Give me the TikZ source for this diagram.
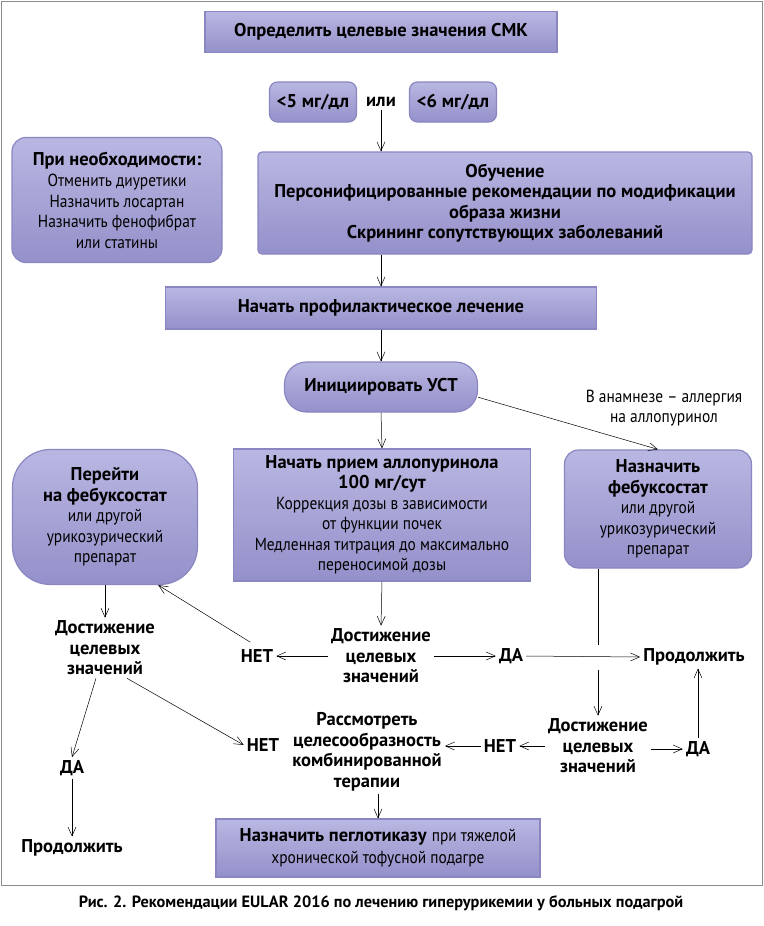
\documentclass[tikz,border=0pt]{standalone}
\usepackage{fontspec}
\setmainfont{PT Sans}
\newfontfamily\rgf[FakeStretch=0.88]{PT Sans}
\usetikzlibrary{arrows.meta}
\definecolor{boxlight}{HTML}{B9B7E2}
\definecolor{boxdark}{HTML}{9490CA}
\definecolor{boxedge}{HTML}{8A86C2}
\definecolor{framecol}{HTML}{8C8C8C}
\newcommand{\rgt}[1]{{\rgf\mdseries\fontsize{17.5}{20.5}\selectfont #1}}
\begin{document}
\begin{tikzpicture}[x=1pt,y=-1pt,
  box/.style={top color=boxlight, bottom color=boxdark, draw=boxedge, line width=1.2pt,
    align=center, inner sep=2pt, font=\bfseries\fontsize{18.5}{20.5}\selectfont},
  txt/.style={align=center, inner sep=3pt, font=\bfseries\fontsize{18.5}{20.5}\selectfont},
  arr/.style={-{Straight Barb[length=9pt,width=8pt]}, line width=0.5pt},
  ln/.style={line width=0.5pt}
]
\useasboundingbox (0,0) rectangle (763,926);
\fill[white] (0,0) rectangle (763,926);
\draw[framecol, line width=1pt] (1,1) rectangle (762,885);

% boxes
\node[box, minimum width=352pt, minimum height=41pt] (n1) at (381,32) {Определить целевые значения СМК};
\node[box, rounded corners=8pt, minimum width=87pt, minimum height=40pt] (lt5) at (313,102) {<5 мг/дл};
\node[txt] (ili) at (381,102) {или};
\node[box, rounded corners=8pt, minimum width=87pt, minimum height=40pt] (lt6) at (453,102) {<6 мг/дл};
\node[box, rounded corners=14pt, minimum width=210pt, minimum height=125pt] (need) at (117,200)
  {При необходимости:\\[1pt] \rgt{Отменить диуретики}\\ \rgt{Назначить лосартан}\\ \rgt{Назначить фенофибрат}\\ \rgt{или статины}};
\node[box, rounded corners=4pt, minimum width=494pt, minimum height=102pt] (edu) at (505,203)
  {Обучение\\ Персонифицированные рекомендации по модификации\\ образа жизни\\ Скрининг сопутствующих заболеваний};
\node[box, minimum width=431pt, minimum height=42pt] (prof) at (381,308) {Начать профилактическое лечение};
\node[box, rounded corners=22pt, minimum width=193pt, minimum height=50pt] (ust) at (381,387) {Инициировать УСТ};
\node[box, minimum width=297pt, minimum height=132pt] (allo) at (382,515)
  {Начать прием аллопуринола\\ 100 мг/сут\\ \rgt{Коррекция дозы в зависимости}\\ \rgt{от функции почек}\\ \rgt{Медленная титрация до максимально}\\ \rgt{переносимой дозы}};
\node[box, rounded corners=38pt, minimum width=185pt, minimum height=135pt] (febl) at (105,517)
  {Перейти\\ на фебуксостат\\ \rgt{или другой}\\ \rgt{урикозурический}\\ \rgt{препарат}};
\node[box, rounded corners=14pt, minimum width=187pt, minimum height=118pt] (febr) at (658,509)
  {Назначить\\ фебуксостат\\ \rgt{или другой}\\ \rgt{урикозурический}\\ \rgt{препарат}};
\node[box, minimum width=324pt, minimum height=58pt, font=\fontsize{18.5}{22}\selectfont] (peg) at (378,848)
  {\textbf{Назначить пеглотиказу} {\rgf\fontsize{17.5}{22}\selectfont при тяжелой}\\ \rgt{хронической тофусной подагре}};

% text nodes
\node[txt] (allergy) at (664,408) {\rgt{В анамнезе – аллергия}\\ \rgt{на аллопуринол}};
\node[txt] (ach1) at (381,656) {Достижение\\ целевых\\ значений};
\node[txt] (net1) at (257,656) {НЕТ};
\node[txt] (da1) at (511,656) {ДА};
\node[txt] (cont1) at (694,657) {Продолжить};
\node[txt] (ach2) at (105,648) {Достижение\\ целевых\\ значений};
\node[txt] (da2) at (72,768) {ДА};
\node[txt] (cont2) at (72,848) {Продолжить};
\node[txt] (net2) at (263,745) {НЕТ};
\node[txt] (cons) at (367,752) {Рассмотреть\\ целесообразность\\ комбинированной\\ терапии};
\node[txt] (net3) at (500,746) {НЕТ};
\node[txt] (ach3) at (598,746) {Достижение\\ целевых\\ значений};
\node[txt] (da3) at (698,749) {ДА};
\node[txt, font=\bfseries\fontsize{16.3}{18}\selectfont] (cap) at (381,903)
  {Рис. 2. Рекомендации EULAR 2016 по лечению гиперурикемии у больных подагрой};

\coordinate (g1) at (598,645);
\coordinate (g2) at (598,670);

% connectors
\draw[arr] (ili.south) -- (ili.south |- edu.north);
\draw[arr] (edu.south -| prof.north) -- (prof.north);
\draw[arr] (prof.south) -- (ust.north);
\draw[arr] (ust.south) -- (allo.north);
\draw[arr] (ust.-6) -- (febr.north);
\draw[arr] (allo.south) -- (ach1.north);
\draw[arr] (ach1.west) -- (net1.east);
\draw[arr] (ach1.east) -- (da1.west);
\draw[arr] (da1.east) -- (cont1.west);
\draw[arr, shorten <=8pt] (net1.north) -- (febl.-52);
\draw[arr] (febl.south) -- (ach2.north);
\draw[arr] ([xshift=-9pt]ach2.south) -- (da2.north);
\draw[arr] ([xshift=22pt]ach2.south) -- (net2.west);
\draw[arr] (da2.south) -- (cont2.north);
\draw[ln] (febr.south -| g1) -- (g1);
\draw[arr] (g2) -- (ach3.north);
\draw[arr] (ach3.west) -- (net3.east);
\draw[arr] (net3.west) -- (cons.east |- net3.west);
\draw[arr] (ach3.east |- da3.west) -- (da3.west);
\draw[arr] (da3.north) -- (da3.north |- cont1.south);
\draw[arr] (peg.north |- cons.south) -- (peg.north);
\end{tikzpicture}
\end{document}
